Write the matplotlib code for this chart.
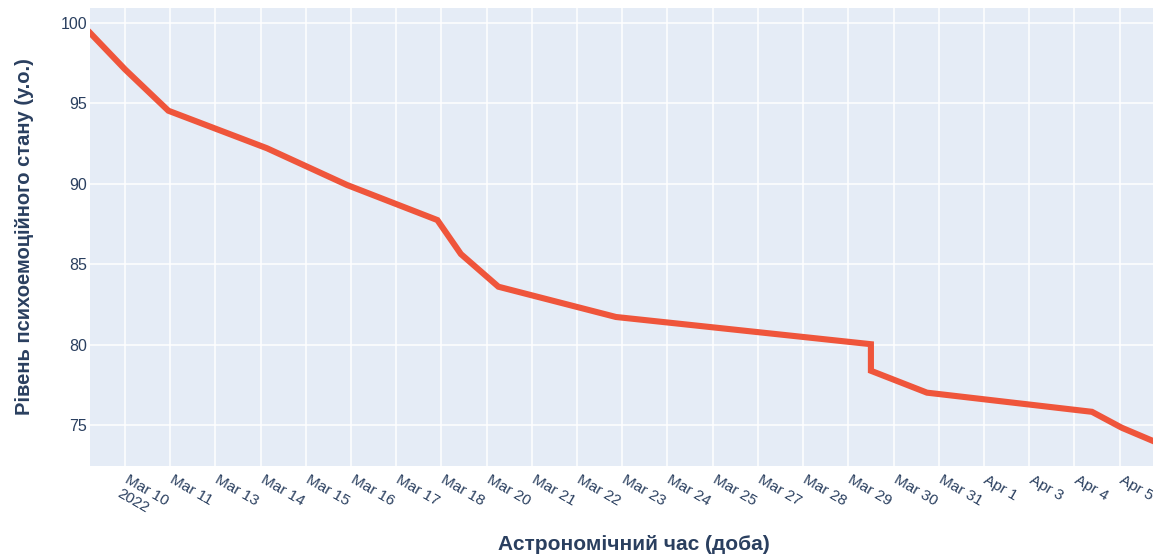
import matplotlib
matplotlib.use("Agg")
import matplotlib.pyplot as plt
from matplotlib.transforms import ScaledTranslation

# tick labels along the time axis (evenly spaced in the original)
tick_labels = ["Mar 10\n2022", "Mar 11", "Mar 13", "Mar 14", "Mar 15", "Mar 16", "Mar 17",
               "Mar 18", "Mar 20", "Mar 21", "Mar 22", "Mar 23", "Mar 24", "Mar 25",
               "Mar 27", "Mar 28", "Mar 29", "Mar 30", "Mar 31", "Apr 1", "Apr 3",
               "Apr 4", "Apr 5"]

# time in tick units (0 = Mar 10), level in conventional units
t = [-0.77, 0.0, 0.96, 3.14, 4.91, 6.91, 7.43, 8.26, 10.86, 16.50, 16.50,
     17.74, 21.39, 22.05, 22.74]
level = [99.36, 97.1, 94.53, 92.2, 89.92, 87.74, 85.63, 83.6, 81.72, 80.03, 78.38,
         77.02, 75.83, 74.84, 74.02]

plt.rcParams["font.family"] = ["Liberation Sans", "DejaVu Sans"]
text_col = "#2a3f5f"

fig = plt.figure(figsize=(11.53, 5.56), dpi=100)
ax = fig.add_axes([90 / 1153, 1 - 465.6 / 556, 1 - 90 / 1153, (465.6 - 8) / 556])
ax.set_facecolor("#E5ECF6")

ax.plot(t, level, color="#EF553B", lw=4.4, solid_joinstyle="miter", zorder=3)

ax.set_xlim(-0.774, 22.74)
ax.set_ylim(72.49, 100.91)
ax.set_xticks(range(len(tick_labels)))
ax.set_xticklabels([])
# rotated labels, placed by hand under each tick
lab_tr = ax.get_xaxis_transform() + ScaledTranslation(0.045, -0.07, fig.dpi_scale_trans)
for i, lab in enumerate(tick_labels):
    ax.text(i, 0, lab, transform=lab_tr, rotation=-30, ha="left", va="top",
            rotation_mode="anchor", color=text_col, fontsize=11, clip_on=False)

ax.set_yticks([75, 80, 85, 90, 95, 100])
ax.tick_params(axis="y", colors=text_col, labelsize=11.5, length=0, pad=2)
ax.tick_params(axis="x", length=0)
for lab in ax.get_yticklabels():
    lab.set_color(text_col)

ax.grid(True, color="white", lw=1.1)
ax.set_axisbelow(True)
for s in ax.spines.values():
    s.set_visible(False)

ax.set_xlabel("Астрономічний час (доба)", fontsize=15, fontweight="bold",
              color=text_col)
ax.xaxis.set_label_coords(0.512, -0.152)
ax.set_ylabel("Рівень психоемоційного стану (у.о.)", fontsize=14.5,
              fontweight="bold", color=text_col)
ax.yaxis.set_label_coords(-0.053, 0.5)

fig.savefig("out.png", dpi=100, facecolor="white")
